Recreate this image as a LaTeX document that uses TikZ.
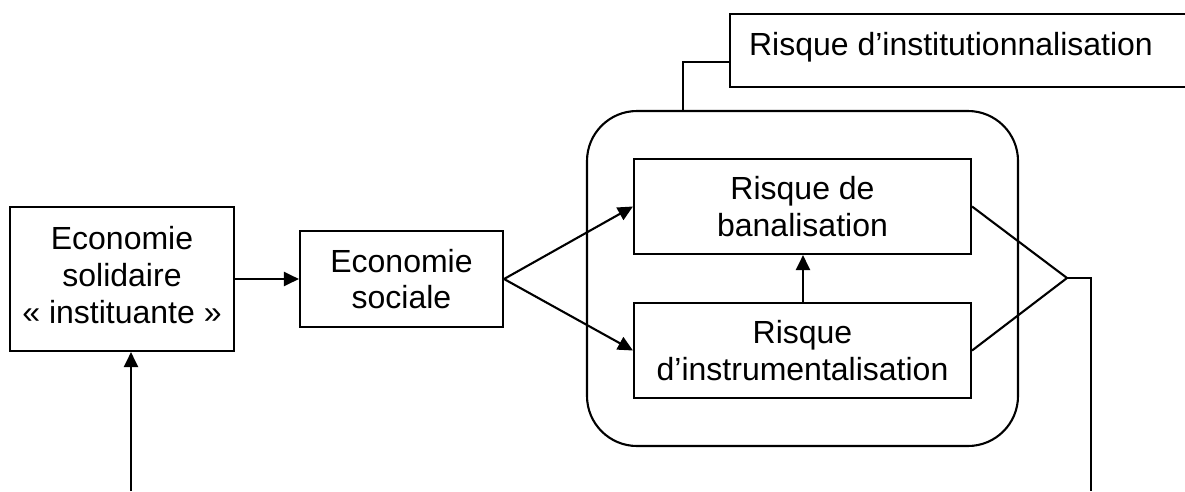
\documentclass[tikz,border=0pt]{standalone}
\usepackage{fontspec}
\setmainfont{Liberation Sans}
\usetikzlibrary{arrows.meta}
\begin{document}
\begin{tikzpicture}[x=1pt,y=-1pt,
  line width=2.1pt,
  txt/.style={font=\fontsize{32}{36.5}\selectfont, align=center},
  boxy/.style={draw, inner sep=0pt, txt},
  arr/.style={-{Triangle[length=15pt,width=14pt]}}]
\useasboundingbox (0,0) rectangle (1185,491);
\clip (0,0) rectangle (1185,491);
% outer rounded box
\node[draw, rounded corners=50pt, minimum width=431pt, minimum height=335pt, inner sep=0pt] (outer) at (802.5,278.5) {};
% boxes
\node[boxy, minimum width=224pt, minimum height=144pt] (left) at (122,279) {\raisebox{7pt}{\begin{tabular}{@{}c@{}}Economie\\[0.5pt] solidaire\\[0.5pt] « instituante »\end{tabular}}};
\node[boxy, minimum width=203pt, minimum height=96pt] (soc) at (401.5,279) {Economie\\sociale};
\node[boxy, minimum width=337pt, minimum height=95pt] (ban) at (802.5,206.5) {Risque de\\banalisation};
\node[boxy, minimum width=337pt, minimum height=95pt] (inst) at (802.5,350.5) {Risque\\d’instrumentalisation};
\node[draw, inner sep=0pt, minimum width=470pt, minimum height=73pt] (top) at (965,50.5) {};
\node[txt, anchor=base west, inner sep=0pt] (toptxt) at (748,55) {Risque d’institutionnalisation};
% coordinates
\coordinate (ctop) at (683,62);
\coordinate (j) at (1067,278);
\coordinate (jr) at (1091,278);
\coordinate (jb) at (1091,491);
\coordinate (lb) at (131,491);
% connectors
\draw[arr] (left.east) -- (soc.west);
\draw[arr] (soc.east) -- (ban.west);
\draw[arr] (soc.east) -- (inst.west);
\draw[arr] (inst.north -| 803,0) -- (ban.south -| 803,0);
\draw (outer.north -| ctop) |- (top.west |- ctop);
\draw (ban.east) -- (j) -- (inst.east);
\draw (j) -- (jr) -- (jb);
\draw[arr] (lb) -- (left.south -| lb);
\end{tikzpicture}
\end{document}
